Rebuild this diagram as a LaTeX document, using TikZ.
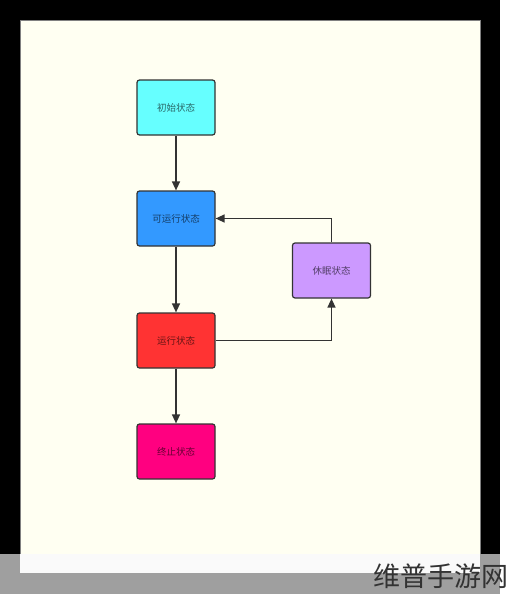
\documentclass[tikz,border=0pt]{standalone}
\usepackage{fontspec}
\usepackage{xcolor}
\usepackage{tikz}
\usetikzlibrary{arrows.meta}
\newfontfamily\cjk{Noto Sans CJK SC}

\definecolor{canvasbg}{HTML}{FFFFF2}
\definecolor{linegray}{HTML}{333333}
\definecolor{initcol}{HTML}{66FFFF}
\definecolor{readycol}{HTML}{3399FF}
\definecolor{runcol}{HTML}{FF3333}
\definecolor{endcol}{HTML}{FF0080}
\definecolor{sleepcol}{HTML}{CC99FF}

\tikzset{
  statebox/.style={draw=linegray, line width=1.2pt, rounded corners=2.5pt,
    minimum width=78pt, minimum height=55pt, inner sep=0pt,
    text=black, text opacity=0.6, font=\cjk\fontsize{9.5}{11}\selectfont},
  flow/.style={-{Triangle[length=9pt, width=8pt]}, draw=linegray, line width=1.4pt}
}

\begin{document}
\begin{tikzpicture}[x=1pt, y=-1pt]
                % fondo
                \fill[black] (0,0) rectangle (500,594);
                \fill[canvasbg] (20,20) rectangle (480,574);
                \draw[gray, line width=0.8pt] (20,20) rectangle (480,574);
                % estados
                \node[statebox, fill=initcol] (init) at (176,107.5) {初始状态};
                \node[statebox, fill=readycol] (ready) at (176,218.5) {可运行状态};
                \node[statebox, fill=runcol] (run) at (176,340.5) {运行状态};
                \node[statebox, fill=endcol] (stop) at (176,451.5) {终止状态};
                \node[statebox, fill=sleepcol] (sleep) at (331.5,270.5) {休眠状态};
                % transiciones
                \draw[flow] (init) -- (ready);
                \draw[flow] (ready) -- (run);
                \draw[flow] (run) -- (stop);
                \draw[flow] (run.east) -| (sleep.south);
                \draw[flow] (sleep.north) |- (ready.east);
                % marca de agua
                \fill[gray!75] (0,554) rectangle (500,594);
                \fill[white, opacity=0.95] (20,554) rectangle (480,573);
                \node[text=linegray, font=\cjk\fontsize{27}{30}\selectfont, anchor=west, inner sep=0pt] (mark) at (373,576) {维普手游网};
                \useasboundingbox (0,0) rectangle (500,594);
            \end{tikzpicture}
\end{document}
